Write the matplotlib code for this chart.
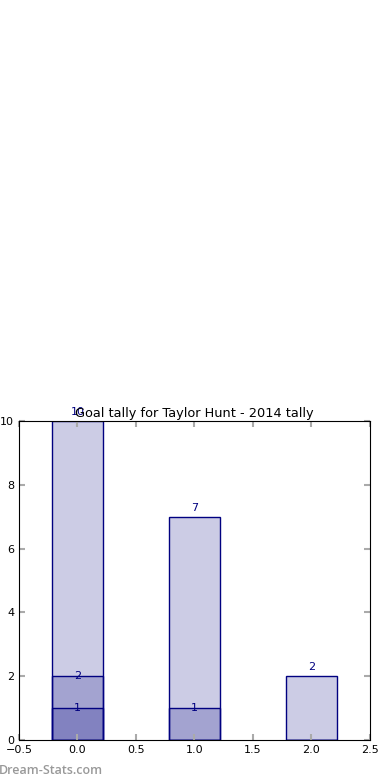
import matplotlib
matplotlib.use("Agg")
import matplotlib.pyplot as plt

positions = [0, 1, 2]
totalGoals = [10, 7, 2]
secondLayer = [2, 1, 0]
thirdLayer = [1, 0, 0]
titleText = "Goal tally for Taylor Hunt - 2014 tally"

fig = plt.figure(figsize=(3.9, 7.8), dpi=100)
ax = fig.add_axes([0.0487, 0.0513, 0.9, 0.409])

# 겹쳐 그리는 막대 (alpha 누적)
for layer in [totalGoals, secondLayer, thirdLayer]:
    ax.bar(positions, layer, width=0.44, color="navy", alpha=0.2, linewidth=0)
    ax.bar(positions, layer, width=0.44, fill=False, edgecolor="navy", linewidth=1)

for x, h in zip(positions, totalGoals):
    if h > 0:
        ax.text(x, h + 0.12, str(h), ha="center", va="bottom", color="navy", fontsize=8)
for layer in [secondLayer, thirdLayer]:
    for x, h in zip(positions, layer):
        if h > 0:
            ax.text(x, h, str(h), ha="center", va="center", color="navy", fontsize=8)

ax.set_xlim(-0.5, 2.5)
ax.set_ylim(0, 10)
ax.set_xticks([-0.5, 0.0, 0.5, 1.0, 1.5, 2.0, 2.5])
ax.set_yticks([0, 2, 4, 6, 8, 10])
ax.tick_params(direction="in", top=True, right=True, color="#aaaaaa", width=1.5, length=4, labelsize=8)
ax.set_title(titleText, fontsize=9.3, pad=3)

fig.text(-0.003, 0.008, "Dream-Stats.com", color="#999999", fontsize=9,
         fontweight="semibold", family=["Open Sans", "DejaVu Sans"])

fig.savefig("out.png", dpi=100)
